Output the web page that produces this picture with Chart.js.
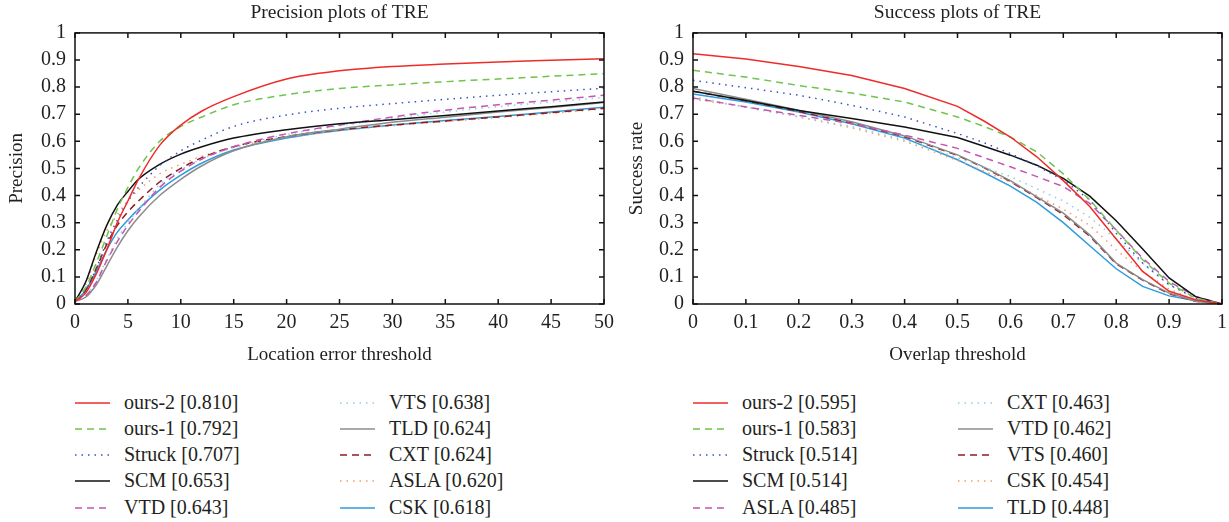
<!DOCTYPE html>
<html>
<head>
<meta charset="utf-8">
<script src="https://cdn.jsdelivr.net/npm/chart.js@4.4.1/dist/chart.umd.min.js"></script>
<style>
  body { margin: 0; background: #fff; width: 1229px; height: 522px; overflow: hidden; position: relative;
         font-family: "Liberation Serif", "DejaVu Serif", serif; color: #231f20; }
  .box { position: absolute; top: 0; height: 370px; }
  .legend { position: absolute; font-size: 20px; }
  .item { position: absolute; height: 20px; white-space: nowrap; }
  .item svg { position: absolute; left: 0; top: 4px; }
  .item span { position: absolute; top: -2px; line-height: 22px; }
</style>
</head>
<body>
<div class="box" style="left:0;width:615px"><canvas id="precChart"></canvas></div>
<div class="box" style="left:615px;width:614px"><canvas id="succChart"></canvas></div>
<div id="precLegend" class="legend"></div>
<div id="succLegend" class="legend"></div>
<script>
// precision plot
const precX = [0, 1, 2, 3, 4, 5, 6, 8, 10, 12, 15, 20, 25, 30, 35, 40, 45, 50];
const precNames = ['ours-2', 'ours-1', 'Struck', 'SCM', 'VTD', 'VTS', 'TLD', 'CXT', 'ASLA', 'CSK'];
const precScores = ['0.810', '0.792', '0.707', '0.653', '0.643', '0.638', '0.624', '0.624', '0.620', '0.618'];
const precOurs2  = [0.01, 0.04, 0.11, 0.20, 0.30, 0.38, 0.46, 0.585, 0.66, 0.712, 0.765, 0.83, 0.86, 0.876, 0.885, 0.893, 0.899, 0.905];
const precOurs1  = [0.01, 0.06, 0.15, 0.25, 0.35, 0.43, 0.50, 0.60, 0.655, 0.69, 0.735, 0.772, 0.795, 0.808, 0.82, 0.83, 0.84, 0.85];
const precStruck = [0.01, 0.05, 0.13, 0.23, 0.31, 0.38, 0.43, 0.51, 0.565, 0.605, 0.655, 0.697, 0.722, 0.739, 0.755, 0.77, 0.783, 0.796];
const precSCM    = [0.01, 0.08, 0.19, 0.29, 0.365, 0.415, 0.46, 0.515, 0.553, 0.58, 0.612, 0.643, 0.665, 0.68, 0.695, 0.712, 0.728, 0.745];
const precVTD    = [0.01, 0.03, 0.08, 0.16, 0.23, 0.29, 0.34, 0.43, 0.49, 0.535, 0.58, 0.628, 0.66, 0.69, 0.715, 0.735, 0.752, 0.77];
const precVTS    = [0.01, 0.03, 0.085, 0.165, 0.24, 0.30, 0.35, 0.44, 0.495, 0.535, 0.578, 0.625, 0.657, 0.685, 0.708, 0.728, 0.745, 0.762];
const precTLD    = [0.01, 0.025, 0.07, 0.14, 0.21, 0.27, 0.32, 0.40, 0.46, 0.51, 0.565, 0.617, 0.645, 0.67, 0.689, 0.708, 0.725, 0.743];
const precCXT    = [0.01, 0.05, 0.13, 0.22, 0.29, 0.34, 0.38, 0.45, 0.50, 0.54, 0.58, 0.618, 0.643, 0.66, 0.675, 0.69, 0.706, 0.722];
const precASLA   = [0.01, 0.07, 0.18, 0.27, 0.33, 0.38, 0.42, 0.48, 0.515, 0.545, 0.578, 0.615, 0.64, 0.658, 0.673, 0.688, 0.703, 0.72];
const precCSK    = [0.01, 0.05, 0.12, 0.20, 0.265, 0.31, 0.35, 0.42, 0.475, 0.52, 0.568, 0.612, 0.64, 0.66, 0.677, 0.692, 0.708, 0.726];

// success plot
const succX = [0, 0.1, 0.2, 0.3, 0.4, 0.5, 0.55, 0.6, 0.65, 0.7, 0.75, 0.8, 0.85, 0.9, 0.95, 1];
const succNames = ['ours-2', 'ours-1', 'Struck', 'SCM', 'ASLA', 'CXT', 'VTD', 'VTS', 'CSK', 'TLD'];
const succScores = ['0.595', '0.583', '0.514', '0.514', '0.485', '0.463', '0.462', '0.460', '0.454', '0.448'];
const succOurs2  = [0.923, 0.904, 0.876, 0.843, 0.795, 0.729, 0.675, 0.616, 0.543, 0.455, 0.36, 0.24, 0.12, 0.047, 0.016, 0];
const succOurs1  = [0.862, 0.837, 0.806, 0.778, 0.745, 0.69, 0.655, 0.616, 0.561, 0.48, 0.384, 0.273, 0.163, 0.077, 0.022, 0];
const succStruck = [0.825, 0.798, 0.77, 0.733, 0.69, 0.629, 0.595, 0.555, 0.51, 0.457, 0.384, 0.261, 0.151, 0.071, 0.022, 0];
const succSCM    = [0.785, 0.751, 0.714, 0.684, 0.653, 0.614, 0.582, 0.549, 0.512, 0.463, 0.398, 0.307, 0.203, 0.096, 0.027, 0];
const succASLA   = [0.76, 0.727, 0.696, 0.665, 0.623, 0.574, 0.54, 0.506, 0.47, 0.433, 0.371, 0.273, 0.169, 0.083, 0.028, 0];
const succCXT    = [0.765, 0.725, 0.69, 0.655, 0.605, 0.54, 0.505, 0.47, 0.425, 0.38, 0.32, 0.24, 0.15, 0.07, 0.02, 0];
const succVTD    = [0.795, 0.755, 0.715, 0.672, 0.62, 0.55, 0.505, 0.455, 0.395, 0.335, 0.255, 0.151, 0.09, 0.04, 0.01, 0];
const succVTS    = [0.785, 0.75, 0.71, 0.668, 0.617, 0.548, 0.503, 0.452, 0.392, 0.33, 0.25, 0.148, 0.088, 0.038, 0.01, 0];
const succCSK    = [0.755, 0.728, 0.69, 0.65, 0.6, 0.53, 0.49, 0.45, 0.4, 0.35, 0.29, 0.2, 0.12, 0.055, 0.015, 0];
const succTLD    = [0.775, 0.745, 0.708, 0.665, 0.612, 0.532, 0.485, 0.435, 0.375, 0.3, 0.215, 0.13, 0.065, 0.03, 0.012, 0];

const yTicks = [0, 0.1, 0.2, 0.3, 0.4, 0.5, 0.6, 0.7, 0.8, 0.9, 1];

// line style per rank (same in both plots)
const rankStyles = [
  { color: '#ee2b2b', dash: [] },
  { color: '#6ec44c', dash: [7, 5] },
  { color: '#3552c4', dash: [1.5, 5] },
  { color: '#111111', dash: [] },
  { color: '#c455b4', dash: [7, 5] },
  { color: '#86d3dd', dash: [1.5, 5] },
  { color: '#8c8c8c', dash: [] },
  { color: '#8e1c1c', dash: [7, 5] },
  { color: '#f59b66', dash: [1.5, 5] },
  { color: '#2f9bdc', dash: [] }
];

const FONT = '"Liberation Serif", "DejaVu Serif", serif';
const TEXT = '#231f20';

// box around plot area with inward ticks on all four sides
const framePlugin = {
  id: 'frame',
  afterDatasetsDraw(chart) {
    const { ctx, chartArea: a, scales } = chart;
    ctx.save();
    ctx.strokeStyle = '#111';
    ctx.lineWidth = 1.5;
    ctx.strokeRect(a.left, a.top, a.right - a.left, a.bottom - a.top);
    const len = 5;
    ctx.beginPath();
    scales.x.ticks.forEach(t => {
      const px = scales.x.getPixelForValue(t.value);
      ctx.moveTo(px, a.bottom); ctx.lineTo(px, a.bottom - len);
      ctx.moveTo(px, a.top); ctx.lineTo(px, a.top + len);
    });
    scales.y.ticks.forEach(t => {
      const py = scales.y.getPixelForValue(t.value);
      ctx.moveTo(a.left, py); ctx.lineTo(a.left + len, py);
      ctx.moveTo(a.right, py); ctx.lineTo(a.right - len, py);
    });
    ctx.stroke();
    ctx.restore();
  }
};

function makeChart(id, cfg) {
  const datasets = cfg.series.map((vals, i) => ({
    label: cfg.names[i],
    data: vals.map((v, k) => ({ x: cfg.xs[k], y: v })),
    borderColor: rankStyles[i].color,
    borderDash: rankStyles[i].dash,
    borderWidth: 1.5,
    pointRadius: 0,
    fill: false,
    tension: cfg.smooth ? 0.4 : 0,
    cubicInterpolationMode: cfg.smooth ? 'monotone' : 'default'
  }));

  return new Chart(document.getElementById(id), {
    type: 'line',
    data: { datasets },
    options: {
      responsive: true,
      maintainAspectRatio: false,
      animation: false,
      layout: { padding: { left: 0, right: cfg.padRight, bottom: 0 } },
      plugins: {
        legend: { display: false },
        tooltip: { enabled: false },
        title: {
          display: true, text: cfg.title, color: TEXT, fullSize: false,
          font: { family: FONT, size: 19.5, weight: 'normal' },
          padding: { top: 1, bottom: 8.5 }
        }
      },
      scales: {
        x: {
          type: 'linear', min: cfg.xs[0], max: cfg.xs[cfg.xs.length - 1],
          afterBuildTicks: s => { s.ticks = cfg.xTicks.map(v => ({ value: v })); },
          afterFit: s => { s.height = 66; s.paddingLeft = 0; s.paddingRight = 0; },
          grid: { display: false, drawTicks: false },
          border: { display: false },
          ticks: {
            color: TEXT, padding: 7, maxRotation: 0, autoSkip: false,
            font: { family: FONT, size: 20 },
            callback: v => String(+v.toFixed(1))
          },
          title: {
            display: true, text: cfg.xTitle, color: TEXT,
            font: { family: FONT, size: 19 }, padding: { top: 0, bottom: 4 }
          }
        },
        y: {
          type: 'linear', min: 0, max: 1,
          afterBuildTicks: s => { s.ticks = yTicks.map(v => ({ value: v })); },
          afterFit: s => { s.width = cfg.yWidth; },
          grid: { display: false, drawTicks: false },
          border: { display: false },
          ticks: {
            color: TEXT, padding: 9, autoSkip: false,
            font: { family: FONT, size: 20 },
            callback: v => String(+v.toFixed(1))
          },
          title: {
            display: true, text: cfg.yTitle, color: TEXT,
            font: { family: FONT, size: 19 }, padding: { top: cfg.yTitlePad, bottom: 0 }
          }
        }
      }
    },
    plugins: [framePlugin]
  });
}

makeChart('precChart', {
  title: 'Precision plots of TRE', xTitle: 'Location error threshold', yTitle: 'Precision',
  xs: precX, xTicks: [0, 5, 10, 15, 20, 25, 30, 35, 40, 45, 50], smooth: true,
  names: precNames,
  series: [precOurs2, precOurs1, precStruck, precSCM, precVTD, precVTS, precTLD, precCXT, precASLA, precCSK],
  yWidth: 75, padRight: 11, yTitlePad: 6
});

makeChart('succChart', {
  title: 'Success plots of TRE', xTitle: 'Overlap threshold', yTitle: 'Success rate',
  xs: succX, xTicks: [0, 0.1, 0.2, 0.3, 0.4, 0.5, 0.6, 0.7, 0.8, 0.9, 1], smooth: false,
  names: succNames,
  series: [succOurs2, succOurs1, succStruck, succSCM, succASLA, succCXT, succVTD, succVTS, succCSK, succTLD],
  yWidth: 78, padRight: 7, yTitlePad: 11
});

// legends: two columns of five, below each plot
function buildLegend(elId, names, scores, left, col2Left) {
  const el = document.getElementById(elId);
  const rowTops = [393, 419, 445, 471, 498];
  names.forEach((name, i) => {
    const st = rankStyles[i];
    const colLeft = i < 5 ? left : col2Left;
    const item = document.createElement('div');
    item.className = 'item';
    item.style.left = colLeft + 'px';
    item.style.top = rowTops[i % 5] + 'px';
    const dash = st.dash.length ? st.dash.join(' ') : 'none';
    item.innerHTML =
      '<svg width="36" height="12"><line x1="0" y1="6" x2="35" y2="6" stroke="' + st.color +
      '" stroke-width="1.5" stroke-dasharray="' + dash + '"/></svg>' +
      '<span style="left:49px">' + name + ' [' + scores[i] + ']</span>';
    el.appendChild(item);
  });
}

buildLegend('precLegend', precNames, precScores, 75, 340);
buildLegend('succLegend', succNames, succScores, 693, 958);
</script>
</body>
</html>
